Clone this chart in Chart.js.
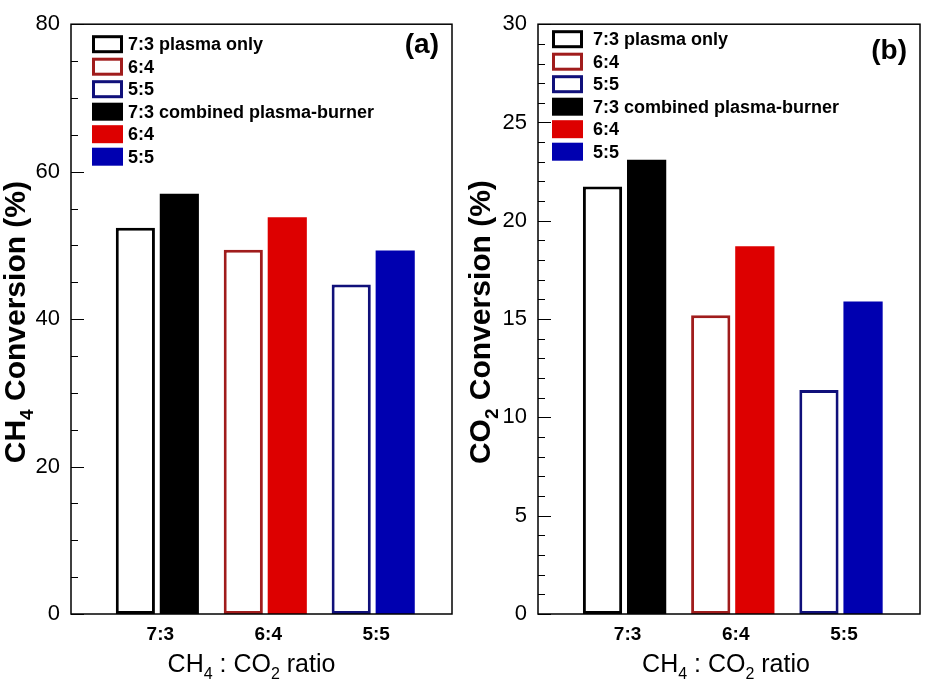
<!DOCTYPE html>
<html>
<head>
<meta charset="utf-8">
<script src="https://cdn.jsdelivr.net/npm/chart.js@4.4.0/dist/chart.umd.min.js"></script>
<style>
  body { margin: 0; background: #fff; }
  .panel { position: absolute; top: 0; height: 682px; }
</style>
</head>
<body>
<div class="panel" style="left:0;width:463px"><canvas id="chartA"></canvas></div>
<div class="panel" style="left:463px;width:464px"><canvas id="chartB"></canvas></div>
<script>
// === DATA ===
const ratios = ["7:3", "6:4", "5:5"];
const ratioPos = [1, 2, 3];
const ch4PlasmaOnly = [52.4, 49.4, 44.7];
const ch4Combined = [57.0, 53.8, 49.3];
const co2PlasmaOnly = [21.75, 15.2, 11.4];
const co2Combined = [23.1, 18.7, 15.9];
const legendLabels = ["7:3 plasma only", "6:4", "5:5", "7:3 combined plasma-burner", "6:4", "5:5"];
const outlineColors = ["#000000", "#a01c1c", "#10107a"];
const fillColors = ["#000000", "#dd0000", "#0000b0"];

const FONT = "Arial, 'Liberation Sans', sans-serif";

// text with subscripts, parts = [[text, isSub], ...]
function drawRich(ctx, parts, x, y, size, weight) {
    const subSize = Math.round(size * 0.62);
    let w = 0;
    parts.forEach(([t, sub]) => {
        ctx.font = weight + " " + (sub ? subSize : size) + "px " + FONT;
        w += ctx.measureText(t).width;
    });
    let cx = x - w / 2;
    ctx.textAlign = "left";
    parts.forEach(([t, sub]) => {
        ctx.font = weight + " " + (sub ? subSize : size) + "px " + FONT;
        ctx.fillText(t, cx, sub ? y + size * 0.27 : y);
        cx += ctx.measureText(t).width;
    });
}

const decorPlugin = {
    id: "decor",
    afterDraw(chart, args, o) {
        const { ctx, chartArea: a, scales } = chart;
        ctx.save();
        ctx.fillStyle = "#000";
        ctx.strokeStyle = "#000";

        // ticks pointing into the plot
        const ys = scales.y;
        ctx.lineWidth = 1;
        ys.ticks.forEach(t => {
            const py = Math.round(ys.getPixelForValue(t.value)) + 0.5;
            const len = t.value % o.majorStep === 0 ? 13 : 7;
            ctx.beginPath();
            ctx.moveTo(a.left, py);
            ctx.lineTo(a.left + len, py);
            ctx.stroke();
        });

        // frame
        ctx.lineWidth = 1.5;
        ctx.strokeRect(a.left, a.top, a.right - a.left, a.bottom - a.top);

        // legend
        ctx.textBaseline = "middle";
        legendLabels.forEach((text, i) => {
            const k = i % 3;
            const filled = i >= 3;
            const bx = a.left + o.legendX;
            const cy = a.top + o.legendY + i * 22.5;
            if (filled) {
                ctx.fillStyle = fillColors[k];
                ctx.fillRect(bx, cy - 9, 31, 18);
            } else {
                ctx.fillStyle = "#fff";
                ctx.fillRect(bx, cy - 9, 31, 18);
                ctx.strokeStyle = outlineColors[k];
                ctx.lineWidth = 3;
                ctx.strokeRect(bx + 1.5, cy - 7.5, 28, 15);
            }
            ctx.fillStyle = "#000";
            ctx.font = "bold 18px " + FONT;
            ctx.textAlign = "left";
            ctx.fillText(text, bx + o.textGap, cy + 1);
        });

        // panel letter
        ctx.font = "bold 28px " + FONT;
        ctx.textAlign = "right";
        ctx.fillText(o.letter, a.right - 13, a.top + o.letterY);

        // axis titles
        ctx.textBaseline = "alphabetic";
        drawRich(ctx, [["CH", false], ["4", true], [" : CO", false], ["2", true], [" ratio", false]],
            (a.left + a.right) / 2 + o.xTitleDx, 672, 25, "normal");

        ctx.translate(o.yTitleX, (a.top + a.bottom) / 2 + 3);
        ctx.rotate(-Math.PI / 2);
        drawRich(ctx, o.yTitle, 0, 10, 30, "bold");
        ctx.restore();
    }
};

function makeChart(id, plasmaOnly, combined, yMax, yStep, majorStep, yWidth, padRight, decor) {
    const ctx = document.getElementById(id).getContext("2d");
    return new Chart(ctx, {
        type: "bar",
        data: {
            datasets: [
                {
                    label: "plasma only",
                    data: ratioPos.map((x, i) => ({ x: x, y: plasmaOnly[i] })),
                    backgroundColor: "#ffffff",
                    borderColor: outlineColors,
                    borderWidth: 3,
                    borderSkipped: false,
                },
                {
                    label: "combined plasma-burner",
                    data: ratioPos.map((x, i) => ({ x: x, y: combined[i] })),
                    backgroundColor: fillColors,
                    borderWidth: 0,
                },
            ],
        },
        options: {
            responsive: true,
            maintainAspectRatio: false,
            animation: false,
            categoryPercentage: 0.815,
            barPercentage: 0.89,
            layout: { padding: { top: 20, right: padRight, left: 0, bottom: 0 } },
            plugins: {
                legend: { display: false },
                tooltip: { enabled: false },
                decor: decor,
            },
            scales: {
                x: {
                    type: "linear",
                    offset: false, // linear + offset would widen the range
                    min: 0.2,
                    max: 3.73,
                    grid: { display: false, drawTicks: false },
                    border: { display: false },
                    afterBuildTicks: s => { s.ticks = ratioPos.map(v => ({ value: v })); },
                    afterFit: s => { s.height = 68; },
                    ticks: {
                        autoSkip: false,
                        maxRotation: 0,
                        padding: 9,
                        labelOffset: 3,
                        color: "#000",
                        font: { family: FONT, size: 19, weight: "bold" },
                        callback: v => ratios[ratioPos.indexOf(v)],
                    },
                },
                y: {
                    min: 0,
                    max: yMax,
                    grid: { display: false, drawTicks: false },
                    border: { display: false },
                    afterFit: s => { s.width = yWidth; },
                    ticks: {
                        stepSize: yStep,
                        autoSkip: false,
                        padding: 11,
                        color: "#000",
                        font: { family: FONT, size: 22 },
                        callback: v => (v % majorStep === 0 ? v : ""),
                    },
                },
            },
        },
        plugins: [decorPlugin],
    });
}

// === CHART (a) CH4 ===
makeChart("chartA", ch4PlasmaOnly, ch4Combined, 80, 5, 20, 71, 11, {
    majorStep: 20, legendX: 21, legendY: 20, textGap: 36, letter: "(a)", letterY: 21,
    xTitleDx: -10, yTitleX: 15,
    yTitle: [["CH", false], ["4", true], [" Conversion (%)", false]],
});

// === CHART (b) CO2 ===
makeChart("chartB", co2PlasmaOnly, co2Combined, 30, 1, 5, 75, 7, {
    majorStep: 5, legendX: 14, legendY: 15, textGap: 41, letter: "(b)", letterY: 27,
    xTitleDx: -3, yTitleX: 17,
    yTitle: [["CO", false], ["2", true], [" Conversion (%)", false]],
});
</script>
</body>
</html>
